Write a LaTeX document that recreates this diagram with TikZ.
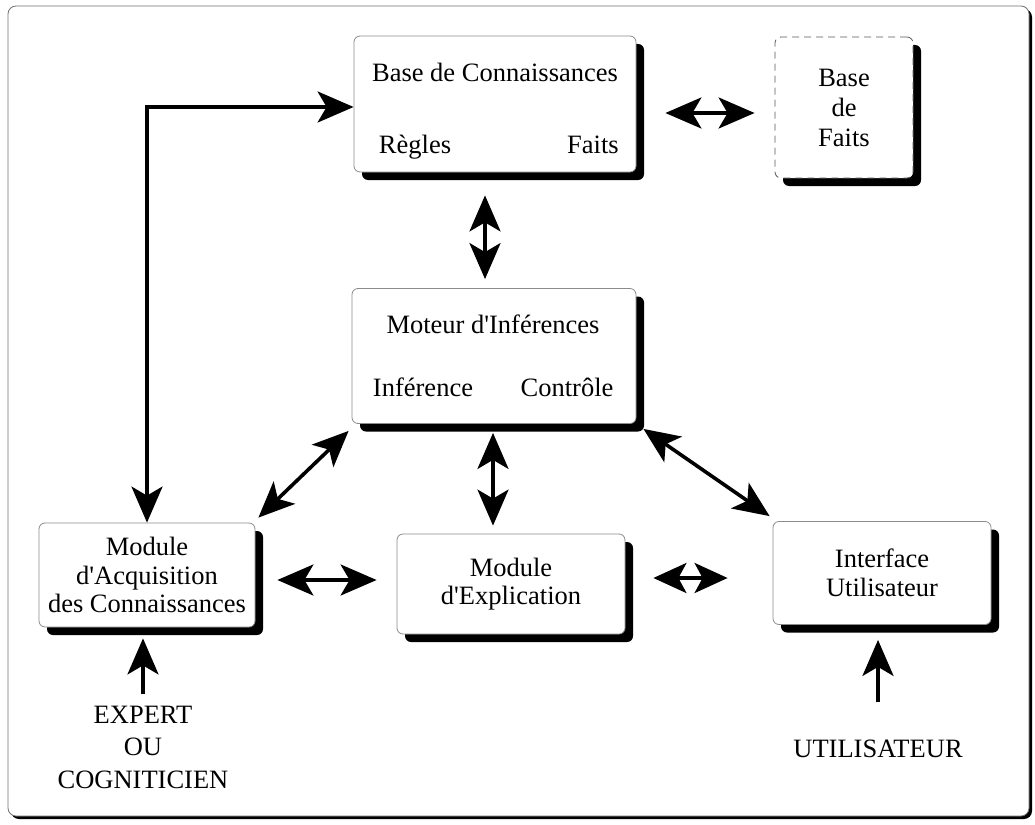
\documentclass[tikz,border=0pt]{standalone}
\usepackage{fontspec}
\setmainfont{Liberation Serif}[Ligatures=TeXOff]
\usetikzlibrary{arrows.meta,shadows,calc}
\begin{document}
\begin{tikzpicture}[x=1pt,y=-1pt,
  txt/.style={font=\fontsize{26.5}{28.5}\selectfont},
  box/.style={txt, draw=black!45, line width=0.8pt, rounded corners=6pt,
    fill=white, align=center, inner sep=0pt,
    drop shadow={shadow xshift=8pt, shadow yshift=-8pt, fill=black, opacity=1}},
  word/.style={txt, inner sep=0pt, anchor=base},
  link/.style={line width=3.6pt, {Stealth[length=36pt,width=31pt,inset=9pt]}-{Stealth[length=36pt,width=31pt,inset=9pt]}},
  shortlink/.style={line width=3.6pt, {Stealth[length=33pt,width=30pt,inset=8pt]}-{Stealth[length=33pt,width=30pt,inset=8pt]}},
  feed/.style={line width=3.6pt, -{Stealth[length=36pt,width=31pt,inset=9pt]}},
  ]
\useasboundingbox (0,0) rectangle (1035,824);

% outer frame with its thin shadow
\fill[black, rounded corners=8pt] (11,9) rectangle (1032,819);
\draw[draw=black!55, fill=white, line width=0.8pt, rounded corners=8pt] (8,6) rectangle (1029,816);

% knowledge base
\node[box, minimum width=282pt, minimum height=136pt] (bc) at (495,104) {};
\node[word] (bctitle) at (495,82) {Base de Connaissances};
\node[word] (regles) at (415,153) {Règles};
\node[word] (faits) at (593,153) {Faits};

% fact base, dashed outline
\node[box, draw=black!65, dash pattern=on 7pt off 5pt, minimum width=138pt, minimum height=141pt,
  font=\fontsize{26.5}{30}\selectfont] (bf) at (844,107.5) {Base\\de\\Faits};

% inference engine
\node[box, minimum width=284pt, minimum height=135pt] (mi) at (494,356) {};
\node[word] (mititle) at (493,333) {Moteur d'Inférences};
\node[word] (inference) at (423,396) {Inférence};
\node[word] (controle) at (567,396) {Contrôle};

% lower modules
\node[box, minimum width=216pt, minimum height=104pt] (acq) at (147,575)
  {Module\\d'Acquisition\\des Connaissances};
\node[box, minimum width=228pt, minimum height=100pt] (exp) at (511,584)
  {Module\\d'Explication};
\node[box, minimum width=218pt, minimum height=103pt] (ui) at (882,573)
  {Interface\\Utilisateur};

% outside actors
\node[txt, align=center, inner sep=0pt, font=\fontsize{26.5}{32.5}\selectfont]
  (expert) at (143,747) {EXPERT\\OU\\COGNITICIEN};
\node[word] (user) at (878,757) {UTILISATEUR};

% connectors
\draw[link] ($(bc.west)+(0,3)$) -| (acq.north);
\draw[link] ($(bc.east)+(29,9)$) -- ($(bf.west)+(-20,5.5)$);
\draw[link] ($(bc.south)+(-10,23)$) -- ($(mi.north)+(-9,-9)$);
\draw[link] ($(mi.south west)+(-3,7)$) -- ($(acq.north east)+(3,-5)$);
\draw[link] ($(mi.south)+(-1,9)$) -- ($(exp.north)+(-18,-8)$);
\draw[link] ($(mi.south east)+(7,5)$) -- ($(ui.north west)+(-3,-5)$);
\draw[link] ($(acq.east)+(22,5)$) -- ($(exp.west)+(-20,-4)$);
\draw[shortlink] ($(exp.east)+(28,-6)$) -- ($(ui.west)+(-45,5)$);
\draw[feed] ($(expert.north)+(0,-12)$) -- ($(acq.south)+(-4,11)$);
\draw[feed] ($(user.north)+(0,-37)$) -- ($(ui.south)+(-4,15)$);
\end{tikzpicture}
\end{document}
